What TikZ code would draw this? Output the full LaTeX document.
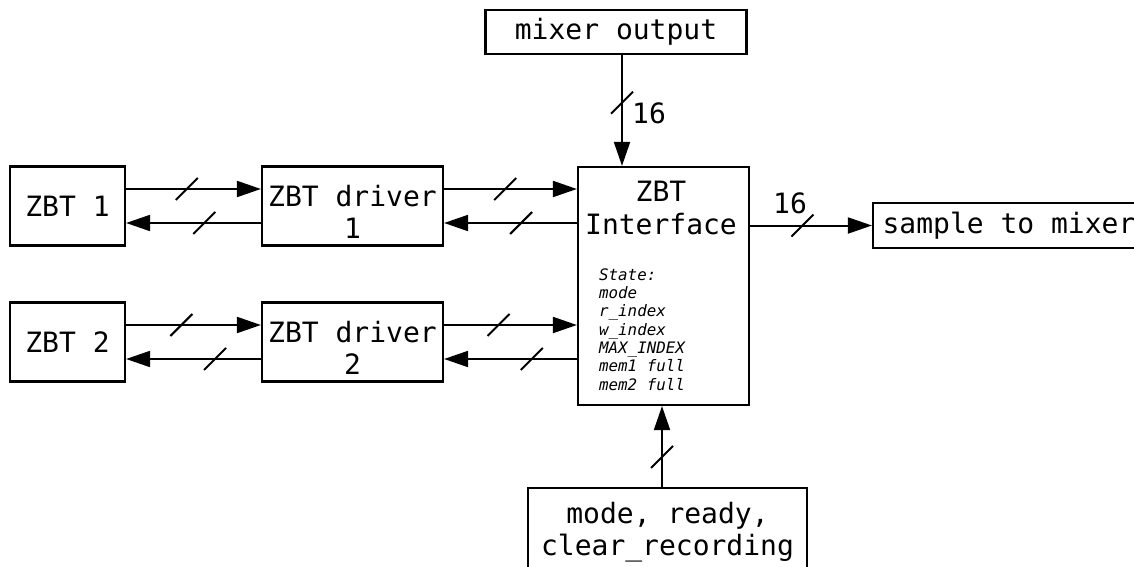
\documentclass[tikz,border=0pt]{standalone}
\usepackage{fontspec}
\setmainfont{DejaVu Sans Mono}
\usetikzlibrary{arrows.meta,calc}
\begin{document}
\begin{tikzpicture}[x=1pt,y=-1pt,
  blk/.style={draw, line width=2.2pt, inner sep=0pt, align=center,
    font=\fontsize{28}{32}\selectfont},
  sig/.style={line width=2pt, -{Triangle[length=24pt,width=16pt]}},
  slash/.style={line width=2pt},
  lbl/.style={font=\fontsize{28}{34}\selectfont, inner sep=0pt}]
\useasboundingbox[fill=white] (0,0) rectangle (1134,567);
\newcommand\busslash[1]{\draw[slash] ($(#1)+(-11,11)$) -- ($(#1)+(11,-11)$);}

% nodes
\node[blk, minimum width=261pt, minimum height=44pt] (mixer) at (616,32) {mixer output};
\node[blk, minimum width=115pt, minimum height=79pt] (zbt1) at (67.5,206) {ZBT 1};
\node[blk, minimum width=181pt, minimum height=79pt] (drv1) at (352.5,206) {\rule{0pt}{33pt}ZBT driver\\1};
\node[blk, minimum width=115pt, minimum height=79pt] (zbt2) at (67.5,342) {ZBT 2};
\node[blk, minimum width=181pt, minimum height=79pt] (drv2) at (352.5,342) {\rule{0pt}{33pt}ZBT driver\\2};
\node[blk, minimum width=171pt, minimum height=238pt] (iface) at (663.5,286) {};
\node[lbl, align=center, font=\fontsize{28}{33}\selectfont] (ititle) at (661,208) {ZBT\\Interface};
\node[inner sep=0pt, anchor=west, align=left,
  font=\fontsize{15.8}{18.3}\selectfont\itshape] (state) at (599,329.5)
  {State:\\mode\\r\_index\\w\_index\\MAX\_INDEX\\mem1 full\\mem2 full};
\node[blk, minimum width=300pt, minimum height=45pt] (sample) at (1023,225.5) {sample to mixer\hspace*{28pt}};
\node[blk, minimum width=279pt, minimum height=82pt] (mode) at (667.5,529) {\rule{0pt}{27pt}mode, ready,\\clear\_recording};

% row 1
\draw[sig] ([yshift=17pt]zbt1.east) -- coordinate[pos=0.45] (s1) ([yshift=17pt]drv1.west);
\busslash{s1}
\draw[sig] ([yshift=-17pt]drv1.west) -- coordinate[pos=0.42] (s2) ([yshift=-17pt]zbt1.east);
\busslash{s2}
\coordinate (d1a) at ([yshift=17pt]drv1.east);
\coordinate (d1b) at ([yshift=-17pt]drv1.east);
\draw[sig] (d1a) -- coordinate[pos=0.46] (s3) (d1a -| iface.west);
\busslash{s3}
\draw[sig] (d1b -| iface.west) -- coordinate[pos=0.42] (s4) (d1b);
\busslash{s4}

% row 2
\draw[sig] ([yshift=17pt]zbt2.east) -- coordinate[pos=0.41] (t1) ([yshift=17pt]drv2.west);
\busslash{t1}
\draw[sig] ([yshift=-17pt]drv2.west) -- coordinate[pos=0.34] (t2) ([yshift=-17pt]zbt2.east);
\busslash{t2}
\coordinate (d2a) at ([yshift=17pt]drv2.east);
\coordinate (d2b) at ([yshift=-17pt]drv2.east);
\draw[sig] (d2a) -- coordinate[pos=0.41] (t3) (d2a -| iface.west);
\busslash{t3}
\draw[sig] (d2b -| iface.west) -- coordinate[pos=0.34] (t4) (d2b);
\busslash{t4}

% mixer output -> interface
\coordinate (ma) at ([xshift=6pt]mixer.south);
\draw[sig] (ma) -- coordinate[pos=0.43] (u1) (ma |- iface.north);
\busslash{u1}
\node[lbl] (l16a) at (649,113) {16};

% interface -> sample
\draw[sig] (sample.west -| iface.east) -- coordinate[pos=0.43] (u2) (sample.west);
\busslash{u2}
\node[lbl] (l16b) at (790,203) {16};

% mode -> interface
\coordinate (mb) at ([xshift=-5.5pt]mode.north);
\draw[sig] (mb) -- coordinate[pos=0.37] (u3) (mb |- iface.south);
\busslash{u3}
\end{tikzpicture}
\end{document}
